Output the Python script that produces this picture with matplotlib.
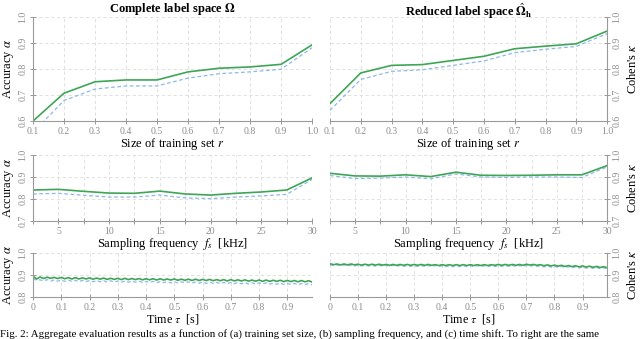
import numpy as np
import matplotlib
matplotlib.use("Agg")
import matplotlib.pyplot as plt
from matplotlib.ticker import MultipleLocator, FixedLocator, FixedFormatter

plt.rcParams.update({"font.family": ["Liberation Serif", "DejaVu Serif"],
                     "mathtext.fontset": "stix", "font.size": 8})

GREEN = "#3ea556"
BLUE = "#8db9ea"
AXC = "#9a9a9a"
TXC = "#8c8c8c"
GRID = "#dcdcdc"

# (a) training set size
size_r = [0.1, 0.2, 0.3, 0.4, 0.5, 0.6, 0.7, 0.8, 0.9, 1.0]
size_acc = [0.600, 0.707, 0.751, 0.758, 0.758, 0.789, 0.803, 0.808, 0.818, 0.893]
size_acc_k = [0.556, 0.679, 0.723, 0.735, 0.735, 0.765, 0.782, 0.789, 0.799, 0.882]
size_red = [0.667, 0.785, 0.814, 0.817, 0.833, 0.849, 0.878, 0.888, 0.897, 0.946]
size_red_k = [0.641, 0.760, 0.791, 0.797, 0.814, 0.831, 0.863, 0.876, 0.887, 0.936]

# (b) sampling frequency [kHz]
freq = [2.5, 5, 7.5, 10, 12.5, 15, 17.5, 20, 22.5, 25, 27.5, 30]
freq_acc = [0.841, 0.844, 0.835, 0.827, 0.826, 0.836, 0.823, 0.818, 0.826, 0.832, 0.841, 0.896]
freq_acc_k = [0.823, 0.826, 0.817, 0.809, 0.809, 0.818, 0.805, 0.802, 0.809, 0.814, 0.821, 0.889]
freq_red = [0.917, 0.905, 0.904, 0.910, 0.902, 0.922, 0.908, 0.907, 0.908, 0.910, 0.910, 0.952]
freq_red_k = [0.907, 0.893, 0.895, 0.900, 0.892, 0.914, 0.900, 0.898, 0.900, 0.900, 0.898, 0.946]

# (c) time shift [s], step 0.0125
shift = [i * 0.0125 for i in range(80)]
shift_acc = [0.895, 0.882, 0.891, 0.884, 0.890, 0.885, 0.889, 0.884, 0.889, 0.883, 0.888, 0.882,
             0.888, 0.882, 0.887, 0.882, 0.887, 0.881, 0.886, 0.881, 0.886, 0.880, 0.885, 0.880,
             0.885, 0.879, 0.885, 0.879, 0.884, 0.879, 0.884, 0.878, 0.883, 0.878, 0.883, 0.877,
             0.883, 0.877, 0.882, 0.877, 0.882, 0.876, 0.881, 0.876, 0.881, 0.875, 0.881, 0.875,
             0.880, 0.875, 0.880, 0.874, 0.879, 0.874, 0.879, 0.873, 0.879, 0.873, 0.878, 0.873,
             0.878, 0.872, 0.877, 0.872, 0.877, 0.871, 0.877, 0.871, 0.876, 0.871, 0.876, 0.870,
             0.875, 0.870, 0.875, 0.869, 0.875, 0.869, 0.874, 0.868]
shift_acc_k = [0.884, 0.876, 0.878, 0.873, 0.879, 0.872, 0.878, 0.872, 0.877, 0.871, 0.877, 0.871,
               0.876, 0.870, 0.876, 0.870, 0.875, 0.869, 0.875, 0.869, 0.874, 0.868, 0.874, 0.868,
               0.873, 0.867, 0.873, 0.867, 0.872, 0.867, 0.872, 0.866, 0.871, 0.866, 0.871, 0.865,
               0.870, 0.865, 0.870, 0.864, 0.870, 0.864, 0.869, 0.864, 0.869, 0.863, 0.868, 0.863,
               0.868, 0.862, 0.867, 0.862, 0.867, 0.861, 0.866, 0.861, 0.866, 0.860, 0.866, 0.860,
               0.865, 0.859, 0.865, 0.859, 0.864, 0.859, 0.864, 0.858, 0.863, 0.858, 0.863, 0.857,
               0.862, 0.857, 0.862, 0.856, 0.861, 0.856, 0.861, 0.855]
shift_red = [0.951, 0.947, 0.950, 0.946, 0.950, 0.946, 0.950, 0.946, 0.949, 0.945, 0.949, 0.945,
             0.949, 0.945, 0.949, 0.945, 0.948, 0.944, 0.948, 0.944, 0.948, 0.944, 0.948, 0.944,
             0.948, 0.944, 0.948, 0.944, 0.948, 0.944, 0.947, 0.943, 0.947, 0.943, 0.947, 0.943,
             0.947, 0.943, 0.947, 0.943, 0.947, 0.943, 0.947, 0.943, 0.947, 0.943, 0.947, 0.944,
             0.948, 0.944, 0.948, 0.944, 0.948, 0.944, 0.948, 0.944, 0.949, 0.945, 0.948, 0.944,
             0.947, 0.942, 0.946, 0.941, 0.945, 0.940, 0.944, 0.939, 0.943, 0.938, 0.942, 0.937,
             0.941, 0.936, 0.940, 0.935, 0.939, 0.934, 0.938, 0.933]
shift_red_k = [0.947, 0.943, 0.946, 0.942, 0.946, 0.942, 0.945, 0.941, 0.945, 0.941, 0.945, 0.941,
               0.944, 0.940, 0.944, 0.940, 0.944, 0.940, 0.944, 0.940, 0.943, 0.939, 0.943, 0.939,
               0.943, 0.939, 0.943, 0.939, 0.943, 0.939, 0.943, 0.939, 0.942, 0.938, 0.942, 0.938,
               0.942, 0.938, 0.942, 0.938, 0.942, 0.938, 0.942, 0.938, 0.942, 0.938, 0.942, 0.938,
               0.943, 0.939, 0.943, 0.939, 0.943, 0.939, 0.943, 0.939, 0.944, 0.940, 0.943, 0.939,
               0.942, 0.937, 0.941, 0.936, 0.940, 0.935, 0.939, 0.934, 0.938, 0.933, 0.937, 0.932,
               0.936, 0.931, 0.935, 0.930, 0.934, 0.929, 0.933, 0.928]

r_ticks = [0.1, 0.2, 0.3, 0.4, 0.5, 0.6, 0.7, 0.8, 0.9, 1.0]
f_ticks = [5, 10, 15, 20, 25, 30]
t_ticks = [0, 0.1, 0.2, 0.3, 0.4, 0.5, 0.6, 0.7, 0.8, 0.9]


def style(ax, side, xlim, ylim, yticks, xticks, xlabels):
    ax.set_xlim(*xlim)
    ax.set_ylim(*ylim)
    for s in ax.spines.values():
        s.set_visible(False)
    ax.spines["bottom"].set_visible(True)
    ax.spines[side].set_visible(True)
    for s in ("bottom", side):
        ax.spines[s].set_color(AXC)
        ax.spines[s].set_linewidth(0.8)
    ax.yaxis.set_ticks_position(side)
    ax.set_yticks(yticks)
    ax.set_yticklabels([f"{v:.1f}" for v in yticks], rotation=90, va="center")
    ax.xaxis.set_major_locator(FixedLocator(xticks))
    ax.xaxis.set_major_formatter(FixedFormatter(xlabels))
    ax.tick_params(which="both", direction="inout", colors=AXC, labelcolor=TXC,
                   labelsize=7, length=5, width=0.7, pad=1.5)
    ax.grid(True, which="both", color=GRID, ls=(0, (4, 3)), lw=0.6)
    ax.set_axisbelow(True)


fig = plt.figure(figsize=(6.4, 3.39), dpi=100)
L, R = (0.0516, 0.436), (0.5156, 0.433)
rows = [(0.643, 0.3068), (0.348, 0.1947), (0.1239, 0.1298)]
axes = {}
for i, (b, h) in enumerate(rows):
    axes[i, 0] = fig.add_axes([L[0], b, L[1], h])
    axes[i, 1] = fig.add_axes([R[0], b, R[1], h])

def draw(ax, x, g, k):
    ax.plot(x, k, color=BLUE, lw=0.9, ls=(0, (3, 2)))
    ax.plot(x, g, color=GREEN, lw=1.2)

rl = [f"{v:.1f}" for v in r_ticks]
draw(axes[0, 0], size_r, size_acc, size_acc_k)
draw(axes[0, 1], size_r, size_red, size_red_k)
style(axes[0, 0], "left", (0.1, 1.0), (0.6, 1.0), [0.6, 0.7, 0.8, 0.9, 1.0], r_ticks, rl)
style(axes[0, 1], "right", (0.1, 1.0), (0.6, 1.0), [0.6, 0.7, 0.8, 0.9, 1.0], r_ticks, rl)

fl = [str(v) for v in f_ticks]
draw(axes[1, 0], freq, freq_acc, freq_acc_k)
draw(axes[1, 1], freq, freq_red, freq_red_k)
for j, side in enumerate(("left", "right")):
    style(axes[1, j], side, (2.5, 30), (0.7, 1.0), [0.7, 0.8, 0.9, 1.0], f_ticks, fl)
    axes[1, j].xaxis.set_minor_locator(MultipleLocator(2.5))

tl = ["0"] + [f"{v:.1f}" for v in t_ticks[1:]]
draw(axes[2, 0], shift, shift_acc, shift_acc_k)
draw(axes[2, 1], shift, shift_red, shift_red_k)
for j, side in enumerate(("left", "right")):
    style(axes[2, j], side, (0, 0.9875), (0.8, 1.0), [0.8, 0.9, 1.0], t_ticks, tl)

xlabels = ["Size of training set $r$", "Sampling frequency  $f_s$  [kHz]", r"Time $\tau$  [s]"]
for i in range(3):
    for j in range(2):
        axes[i, j].set_xlabel(xlabels[i], fontsize=9 if i < 2 else 8.7, labelpad=0)
    axes[i, 0].set_ylabel(r"Accuracy $\alpha$", fontsize=9, labelpad=2)
    axes[i, 1].yaxis.set_label_position("right")
    axes[i, 1].set_ylabel(r"Cohen's $\kappa$", fontsize=9, labelpad=3)

fig.text(L[0] + L[1] / 2, 0.997, r"Complete label space $\mathbf{\Omega}$", fontsize=9,
         fontweight="bold", ha="center", va="top")
fig.text(R[0] + R[1] / 2, 0.997, r"Reduced label space $\hat{\mathbf{\Omega}}_{\mathbf{h}}$",
         fontsize=9, fontweight="bold", ha="center", va="top")

fig.text(0.0, 0.0, "Fig. 2: Aggregate evaluation results as a function of (a) training set size, "
         "(b) sampling frequency, and (c) time shift. To right are the same",
         fontsize=7.8, ha="left", va="bottom")

fig.savefig("out.png", dpi=100)
